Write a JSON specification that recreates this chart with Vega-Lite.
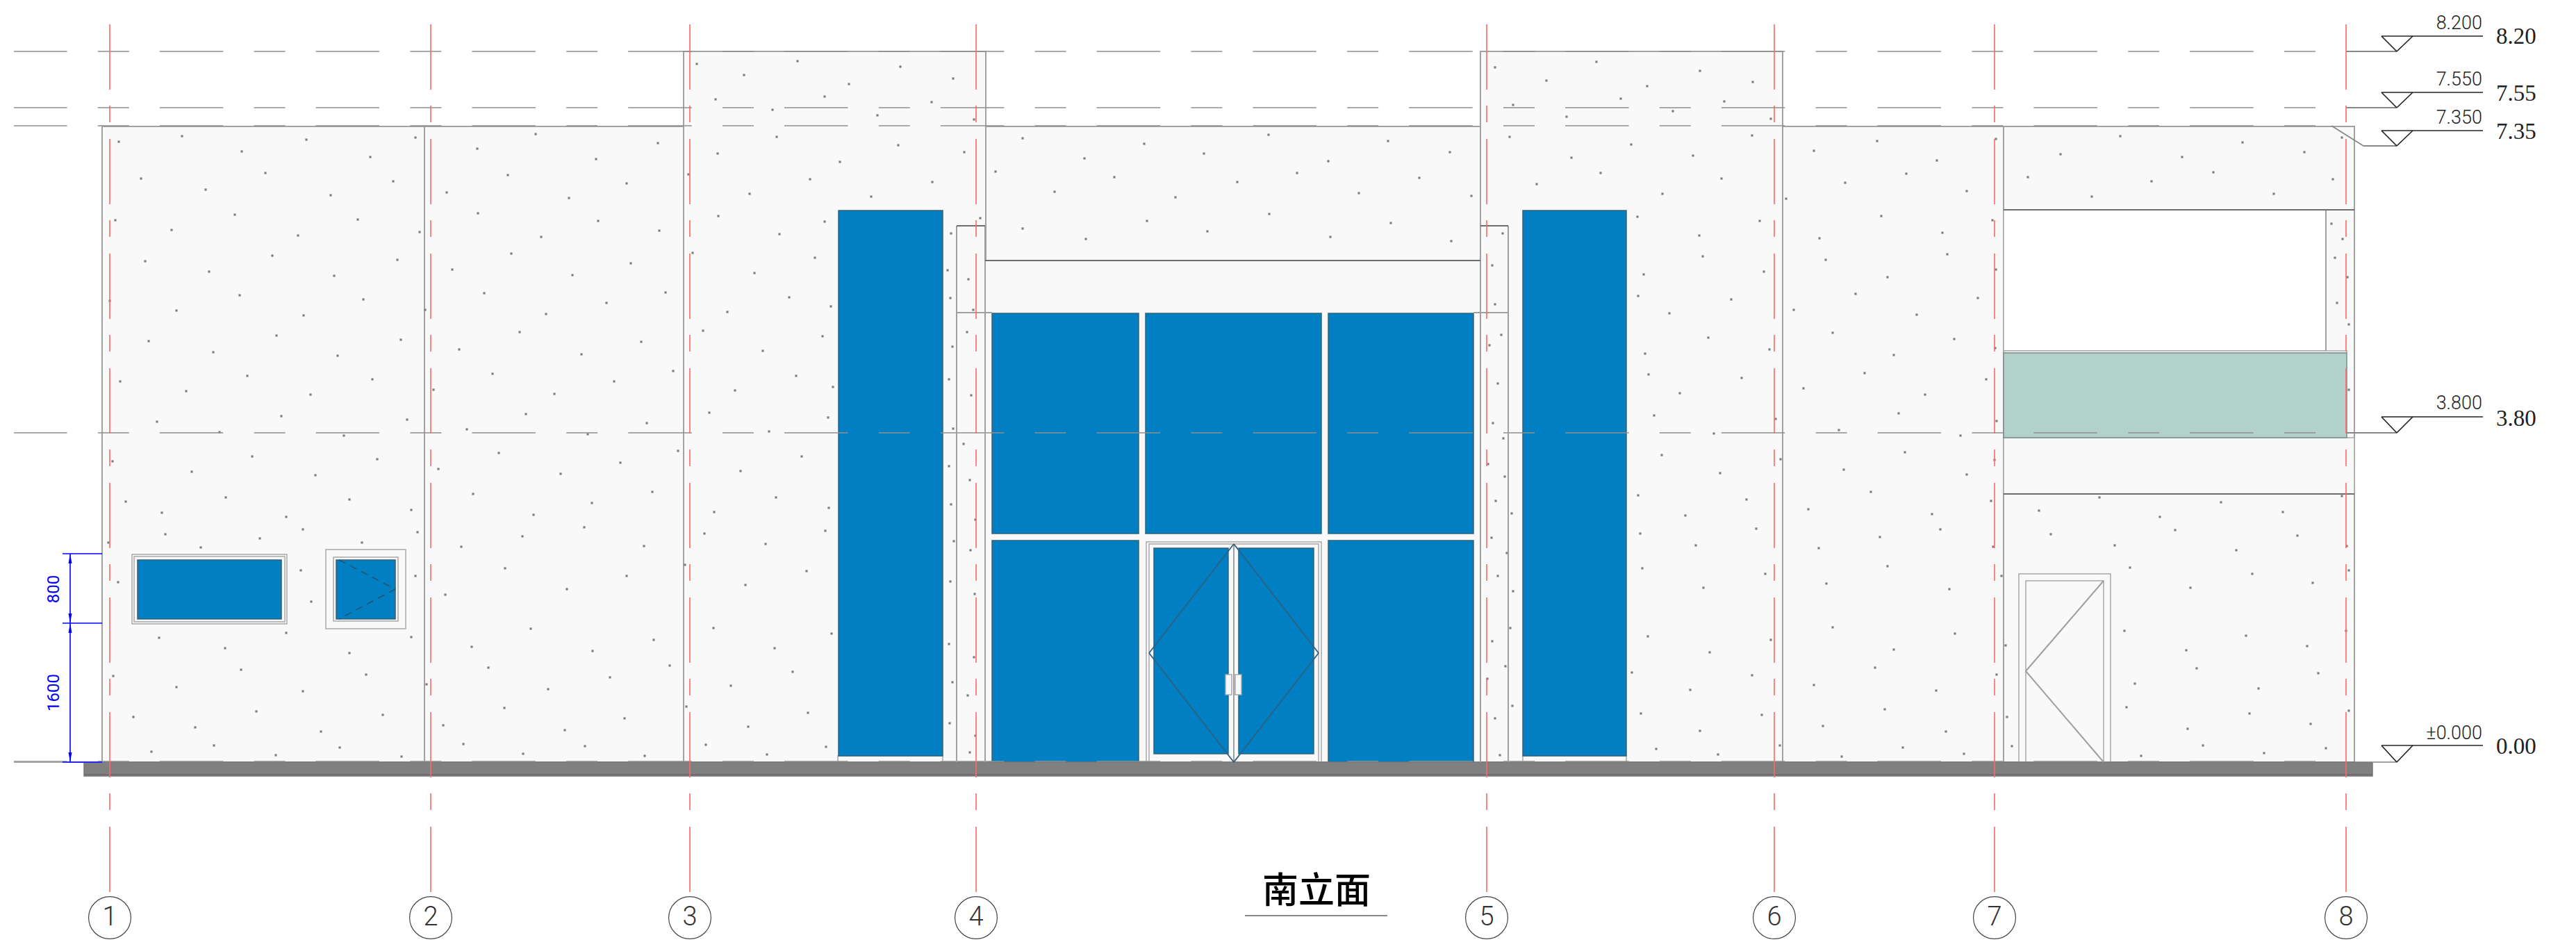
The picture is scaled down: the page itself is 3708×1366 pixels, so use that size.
{"$schema":"https://vega.github.io/schema/vega-lite/v6.json","width":3708,"height":1366,"padding":0,"autosize":"none","background":"white","config":{"view":{"stroke":null}},
"datasets":{
"walls":[{"x":147,"x2":611,"y":182,"y2":1097},{"x":611,"x2":984,"y":182,"y2":1097},{"x":1419,"x2":2131,"y":182,"y2":1097},{"x":2566,"x2":2884,"y":182,"y2":1097},{"x":2884,"x2":3389,"y":182,"y2":1097},{"x":984,"x2":1419,"y":74,"y2":1097},{"x":2131,"x2":2566,"y":74,"y2":1097}],
"speckle":[
{"x":1003,"y":92},{"x":1071,"y":108},{"x":1148,"y":88},{"x":1222,"y":121},{"x":1296,"y":96},{"x":1372,"y":113},{"x":1030,"y":143},{"x":1112,"y":158},{"x":1187,"y":139},{"x":1263,"y":166},{"x":1341,"y":147},{"x":1402,"y":172},
{"x":2152,"y":97},{"x":2226,"y":116},{"x":2298,"y":89},{"x":2371,"y":124},{"x":2447,"y":102},{"x":2523,"y":118},{"x":2178,"y":151},{"x":2255,"y":168},{"x":2333,"y":142},{"x":2408,"y":160},{"x":2482,"y":146},{"x":2549,"y":171},
{"x":171,"y":204},{"x":262,"y":196},{"x":348,"y":218},{"x":441,"y":201},{"x":533,"y":226},{"x":598,"y":198},{"x":687,"y":214},{"x":771,"y":193},{"x":858,"y":229},{"x":947,"y":206},{"x":1033,"y":221},{"x":1118,"y":197},{"x":1209,"y":233},{"x":1293,"y":209},{"x":1388,"y":219},{"x":1472,"y":199},{"x":1561,"y":228},{"x":1647,"y":207},{"x":1733,"y":221},{"x":1826,"y":194},{"x":1912,"y":232},{"x":1998,"y":203},{"x":2087,"y":219},{"x":2173,"y":197},{"x":2262,"y":227},{"x":2348,"y":208},{"x":2437,"y":224},{"x":2522,"y":195},{"x":2611,"y":217},{"x":2702,"y":203},{"x":2788,"y":231},{"x":2873,"y":200},{"x":2966,"y":222},{"x":3052,"y":196},{"x":3141,"y":226},{"x":3228,"y":205},{"x":3317,"y":219},{"x":3371,"y":198},
{"x":203,"y":257},{"x":296,"y":273},{"x":382,"y":249},{"x":476,"y":281},{"x":566,"y":261},{"x":643,"y":277},{"x":731,"y":252},{"x":819,"y":285},{"x":902,"y":264},{"x":991,"y":251},{"x":1079,"y":279},{"x":1166,"y":258},{"x":1254,"y":283},{"x":1342,"y":262},{"x":1433,"y":247},{"x":1518,"y":276},{"x":1604,"y":255},{"x":1692,"y":284},{"x":1781,"y":262},{"x":1867,"y":249},{"x":1956,"y":278},{"x":2043,"y":256},{"x":2118,"y":282},{"x":2212,"y":265},{"x":2304,"y":249},{"x":2393,"y":279},{"x":2478,"y":257},{"x":2571,"y":286},{"x":2656,"y":263},{"x":2744,"y":250},{"x":2831,"y":275},{"x":2919,"y":255},{"x":3011,"y":283},{"x":3097,"y":261},{"x":3186,"y":248},{"x":3273,"y":279},{"x":3358,"y":258},
{"x":166,"y":317},{"x":247,"y":331},{"x":338,"y":309},{"x":429,"y":339},{"x":515,"y":316},{"x":604,"y":334},{"x":688,"y":307},{"x":779,"y":341},{"x":861,"y":318},{"x":949,"y":332},{"x":1034,"y":311},{"x":1122,"y":337},{"x":1187,"y":319},{"x":1369,"y":336},{"x":1411,"y":314},{"x":1472,"y":329},{"x":1563,"y":344},{"x":1651,"y":318},{"x":1738,"y":333},{"x":1827,"y":308},{"x":1915,"y":341},{"x":2002,"y":321},{"x":2089,"y":347},{"x":2163,"y":336},{"x":2357,"y":312},{"x":2446,"y":339},{"x":2533,"y":318},{"x":2619,"y":343},{"x":2708,"y":311},{"x":2796,"y":335},{"x":2868,"y":317},{"x":3356,"y":322},{"x":3372,"y":344},
{"x":209,"y":376},{"x":301,"y":391},{"x":392,"y":368},{"x":481,"y":397},{"x":572,"y":374},{"x":651,"y":388},{"x":736,"y":365},{"x":824,"y":396},{"x":908,"y":379},{"x":997,"y":364},{"x":1086,"y":393},{"x":1173,"y":371},{"x":1364,"y":389},{"x":1394,"y":402},{"x":2148,"y":382},{"x":2366,"y":395},{"x":2451,"y":369},{"x":2539,"y":391},{"x":2628,"y":374},{"x":2717,"y":399},{"x":2803,"y":366},{"x":2873,"y":388},{"x":3361,"y":371},{"x":3379,"y":399},
{"x":158,"y":433},{"x":254,"y":447},{"x":345,"y":425},{"x":437,"y":454},{"x":523,"y":431},{"x":612,"y":446},{"x":697,"y":422},{"x":786,"y":452},{"x":873,"y":436},{"x":958,"y":421},{"x":1047,"y":449},{"x":1136,"y":428},{"x":1196,"y":441},{"x":1368,"y":429},{"x":1401,"y":446},{"x":2152,"y":438},{"x":2358,"y":426},{"x":2403,"y":451},{"x":2492,"y":431},{"x":2582,"y":446},{"x":2671,"y":423},{"x":2759,"y":453},{"x":2847,"y":429},{"x":3364,"y":436},{"x":3381,"y":467},
{"x":214,"y":491},{"x":307,"y":507},{"x":398,"y":483},{"x":486,"y":512},{"x":577,"y":489},{"x":661,"y":503},{"x":748,"y":478},{"x":837,"y":510},{"x":923,"y":492},{"x":1012,"y":476},{"x":1098,"y":505},{"x":1184,"y":484},{"x":1371,"y":499},{"x":1392,"y":478},{"x":2144,"y":497},{"x":2161,"y":482},{"x":2368,"y":509},{"x":2459,"y":486},{"x":2547,"y":503},{"x":2638,"y":479},{"x":2726,"y":511},{"x":2813,"y":488},{"x":2872,"y":501},
{"x":173,"y":549},{"x":268,"y":563},{"x":356,"y":541},{"x":447,"y":568},{"x":536,"y":546},{"x":624,"y":561},{"x":709,"y":538},{"x":798,"y":567},{"x":884,"y":549},{"x":969,"y":534},{"x":1058,"y":562},{"x":1146,"y":541},{"x":1199,"y":557},{"x":1366,"y":546},{"x":1398,"y":569},{"x":2156,"y":552},{"x":2373,"y":539},{"x":2418,"y":566},{"x":2507,"y":544},{"x":2596,"y":559},{"x":2684,"y":537},{"x":2771,"y":568},{"x":2859,"y":546},{"x":3381,"y":561},
{"x":226,"y":607},{"x":316,"y":622},{"x":405,"y":599},{"x":495,"y":627},{"x":586,"y":604},{"x":672,"y":618},{"x":757,"y":596},{"x":846,"y":625},{"x":931,"y":609},{"x":1021,"y":594},{"x":1107,"y":621},{"x":1192,"y":601},{"x":1372,"y":617},{"x":1387,"y":639},{"x":2149,"y":609},{"x":2164,"y":631},{"x":2381,"y":598},{"x":2467,"y":624},{"x":2556,"y":603},{"x":2647,"y":619},{"x":2733,"y":595},{"x":2822,"y":627},{"x":2874,"y":606},
{"x":162,"y":664},{"x":276,"y":679},{"x":363,"y":657},{"x":454,"y":684},{"x":543,"y":661},{"x":631,"y":675},{"x":718,"y":652},{"x":807,"y":682},{"x":893,"y":666},{"x":976,"y":649},{"x":1066,"y":678},{"x":1154,"y":657},{"x":1366,"y":671},{"x":1396,"y":691},{"x":2142,"y":668},{"x":2166,"y":686},{"x":2392,"y":655},{"x":2476,"y":681},{"x":2563,"y":661},{"x":2654,"y":676},{"x":2742,"y":651},{"x":2831,"y":683},{"x":2871,"y":662},
{"x":181,"y":722},{"x":233,"y":738},{"x":325,"y":716},{"x":412,"y":744},{"x":503,"y":719},{"x":592,"y":734},{"x":681,"y":711},{"x":768,"y":741},{"x":852,"y":724},{"x":939,"y":708},{"x":1028,"y":737},{"x":1117,"y":716},{"x":1193,"y":731},{"x":1369,"y":726},{"x":1404,"y":748},{"x":2153,"y":721},{"x":2176,"y":739},{"x":2358,"y":713},{"x":2426,"y":742},{"x":2514,"y":719},{"x":2603,"y":733},{"x":2693,"y":708},{"x":2781,"y":740},{"x":2866,"y":721},{"x":2935,"y":735},{"x":3022,"y":716},{"x":3109,"y":744},{"x":3197,"y":723},{"x":3286,"y":737},{"x":3371,"y":714},
{"x":156,"y":781},{"x":238,"y":769},{"x":289,"y":788},{"x":374,"y":775},{"x":436,"y":762},{"x":521,"y":781},{"x":601,"y":766},{"x":664,"y":787},{"x":752,"y":772},{"x":841,"y":759},{"x":927,"y":786},{"x":1014,"y":768},{"x":1102,"y":783},{"x":1188,"y":764},{"x":1373,"y":779},{"x":1397,"y":792},{"x":2147,"y":774},{"x":2169,"y":796},{"x":2361,"y":768},{"x":2441,"y":785},{"x":2528,"y":761},{"x":2618,"y":789},{"x":2706,"y":773},{"x":2793,"y":762},{"x":2869,"y":787},{"x":2952,"y":769},{"x":3044,"y":785},{"x":3131,"y":763},{"x":3219,"y":792},{"x":3307,"y":771},{"x":3378,"y":786},
{"x":170,"y":838},{"x":433,"y":821},{"x":448,"y":866},{"x":598,"y":829},{"x":641,"y":856},{"x":727,"y":818},{"x":816,"y":848},{"x":902,"y":829},{"x":986,"y":813},{"x":1073,"y":842},{"x":1161,"y":822},{"x":1368,"y":837},{"x":1403,"y":855},{"x":2156,"y":829},{"x":2178,"y":851},{"x":2364,"y":818},{"x":2452,"y":846},{"x":2541,"y":826},{"x":2629,"y":840},{"x":2717,"y":815},{"x":2806,"y":848},{"x":2881,"y":829},{"x":3066,"y":817},{"x":3153,"y":846},{"x":3242,"y":826},{"x":3329,"y":839},{"x":3381,"y":821},
{"x":229,"y":918},{"x":324,"y":933},{"x":412,"y":911},{"x":503,"y":940},{"x":592,"y":917},{"x":679,"y":931},{"x":764,"y":905},{"x":853,"y":937},{"x":941,"y":921},{"x":1027,"y":904},{"x":1115,"y":933},{"x":1197,"y":912},{"x":1366,"y":927},{"x":1402,"y":946},{"x":2148,"y":923},{"x":2174,"y":904},{"x":2372,"y":916},{"x":2461,"y":939},{"x":2549,"y":921},{"x":2638,"y":903},{"x":2726,"y":935},{"x":2814,"y":912},{"x":2887,"y":929},{"x":3058,"y":908},{"x":3147,"y":936},{"x":3233,"y":915},{"x":3321,"y":930},{"x":3377,"y":908},
{"x":163,"y":973},{"x":254,"y":989},{"x":347,"y":964},{"x":436,"y":995},{"x":527,"y":971},{"x":614,"y":985},{"x":703,"y":961},{"x":789,"y":992},{"x":878,"y":975},{"x":964,"y":958},{"x":1052,"y":987},{"x":1141,"y":967},{"x":1371,"y":982},{"x":1393,"y":1001},{"x":2141,"y":977},{"x":2167,"y":959},{"x":2349,"y":968},{"x":2433,"y":993},{"x":2522,"y":972},{"x":2611,"y":986},{"x":2699,"y":961},{"x":2787,"y":994},{"x":2874,"y":971},{"x":3073,"y":984},{"x":3162,"y":962},{"x":3251,"y":991},{"x":3337,"y":969},
{"x":192,"y":1032},{"x":281,"y":1047},{"x":369,"y":1024},{"x":462,"y":1053},{"x":551,"y":1029},{"x":638,"y":1044},{"x":726,"y":1019},{"x":813,"y":1051},{"x":899,"y":1034},{"x":988,"y":1017},{"x":1077,"y":1046},{"x":1163,"y":1026},{"x":1367,"y":1041},{"x":1404,"y":1059},{"x":2152,"y":1034},{"x":2177,"y":1016},{"x":2362,"y":1027},{"x":2447,"y":1052},{"x":2536,"y":1029},{"x":2624,"y":1045},{"x":2713,"y":1021},{"x":2801,"y":1053},{"x":2889,"y":1032},{"x":3061,"y":1018},{"x":3149,"y":1049},{"x":3238,"y":1027},{"x":3326,"y":1042},{"x":3381,"y":1023},
{"x":218,"y":1082},{"x":308,"y":1073},{"x":397,"y":1087},{"x":489,"y":1076},{"x":578,"y":1089},{"x":667,"y":1071},{"x":753,"y":1085},{"x":842,"y":1074},{"x":928,"y":1088},{"x":1016,"y":1072},{"x":1104,"y":1086},{"x":1189,"y":1075},{"x":1396,"y":1083},{"x":2159,"y":1087},{"x":2384,"y":1078},{"x":2473,"y":1086},{"x":2562,"y":1073},{"x":2651,"y":1089},{"x":2739,"y":1076},{"x":2827,"y":1085},{"x":2896,"y":1074},{"x":3082,"y":1088},{"x":3171,"y":1073},{"x":3259,"y":1084},{"x":3348,"y":1077}
],
"parts":[
{"part":"plain","x":1418,"x2":2131,"y":375,"y2":1097},
{"part":"plain","x":1206,"x2":1357,"y":1088,"y2":1097},
{"part":"plain","x":2192,"x2":2341,"y":1088,"y2":1097},
{"part":"plain","x":2884,"x2":3389,"y":630,"y2":711},
{"part":"opening","x":2884,"x2":3348,"y":302,"y2":505},
{"part":"opening","x":2884,"x2":3378,"y":505,"y2":508},
{"part":"green","x":2884,"x2":3378,"y":508,"y2":630},
{"part":"glass","x":1207,"x2":1357,"y":303,"y2":1088},
{"part":"glass","x":2192,"x2":2341,"y":303,"y2":1088},
{"part":"glass","x":1428,"x2":1639,"y":451,"y2":768},
{"part":"glass","x":1649,"x2":1902,"y":451,"y2":768},
{"part":"glass","x":1912,"x2":2121,"y":451,"y2":768},
{"part":"glass","x":1428,"x2":1639,"y":778,"y2":1097},
{"part":"glass","x":1912,"x2":2121,"y":778,"y2":1097},
{"part":"plain","x":1650,"x2":1902,"y":780,"y2":1097},
{"part":"plain","x":1654,"x2":1898,"y":783,"y2":1097},
{"part":"glass","x":1661,"x2":1768,"y":789,"y2":1085},
{"part":"glass","x":1783,"x2":1891,"y":789,"y2":1085},
{"part":"plain","x":1764,"x2":1773,"y":971,"y2":1000},
{"part":"plain","x":1778,"x2":1787,"y":971,"y2":1000},
{"part":"plain","x":190,"x2":413,"y":798,"y2":898},
{"part":"plain","x":193,"x2":410,"y":801,"y2":895},
{"part":"glass","x":198,"x2":405,"y":806,"y2":891},
{"part":"plain","x":469,"x2":584,"y":791,"y2":905},
{"part":"plain","x":480,"x2":573,"y":802,"y2":894},
{"part":"glass","x":484,"x2":569,"y":806,"y2":891},
{"part":"plain","x":2906,"x2":3038,"y":826,"y2":1097},
{"part":"plain","x":2916,"x2":3028,"y":836,"y2":1097},
{"part":"foundation","x":121,"x2":3415,"y":1097,"y2":1117}],
"axes":[{"x":158,"y":35,"y2":1288},{"x":620,"y":35,"y2":1288},{"x":993,"y":35,"y2":1288},{"x":1405,"y":35,"y2":1288},{"x":2140,"y":35,"y2":1288},{"x":2554,"y":35,"y2":1288},{"x":2871,"y":35,"y2":1288},{"x":3377,"y":35,"y2":1288}],
"levelDashes":[{"x":20,"x2":3378,"y":74},{"x":20,"x2":3378,"y":155},{"x":20,"x2":3356,"y":181},{"x":20,"x2":3378,"y":623},{"x":20,"x2":3378,"y":1096}],
"lines":[
{"role":"frame","x":1377,"x2":1377,"y":325,"y2":1097},
{"role":"frame","x":1418,"x2":1418,"y":325,"y2":1097},
{"role":"frame","x":2131,"x2":2131,"y":325,"y2":1097},
{"role":"frame","x":2171,"x2":2171,"y":325,"y2":1097},
{"role":"frame","x":1377,"x2":1428,"y":450,"y2":450},
{"role":"frame","x":2121,"x2":2171,"y":450,"y2":450},
{"role":"frame","x":3348,"x2":3348,"y":302,"y2":505},
{"role":"frame","x":1776,"x2":1776,"y":783,"y2":1097},
{"role":"frame","x":2916,"x2":3028,"y":966,"y2":836},
{"role":"frame","x":2916,"x2":3028,"y":966,"y2":1097},
{"role":"frame","x":20,"x2":147,"y":1097,"y2":1097},
{"role":"frame","x":3415,"x2":3450,"y":1097,"y2":1097},
{"role":"dark","x":1377,"x2":1418,"y":325,"y2":325},
{"role":"dark","x":2131,"x2":2171,"y":325,"y2":325},
{"role":"dark","x":1418,"x2":2131,"y":375,"y2":375},
{"role":"dark","x":2884,"x2":3389,"y":302,"y2":302},
{"role":"dark","x":2884,"x2":3389,"y":711,"y2":711},
{"role":"dark","x":121,"x2":3415,"y":1115,"y2":1115},
{"role":"swing","x":1776,"x2":1654,"y":783,"y2":940},
{"role":"swing","x":1654,"x2":1776,"y":940,"y2":1097},
{"role":"swing","x":1776,"x2":1898,"y":783,"y2":940},
{"role":"swing","x":1898,"x2":1776,"y":940,"y2":1097},
{"role":"leader","x":3378,"x2":3450,"y":74,"y2":74},
{"role":"leader","x":3378,"x2":3450,"y":155,"y2":155},
{"role":"leader","x":3356,"x2":3402,"y":181,"y2":210},
{"role":"leader","x":3402,"x2":3450,"y":210,"y2":210},
{"role":"leader","x":3378,"x2":3450,"y":623,"y2":623},
{"role":"leader","x":1792,"x2":1997,"y":1318,"y2":1318},
{"role":"level","x":3428,"x2":3574,"y":52,"y2":52},{"role":"level","x":3428,"x2":3450,"y":52,"y2":74},{"role":"level","x":3473,"x2":3450,"y":52,"y2":74},
{"role":"level","x":3428,"x2":3574,"y":133,"y2":133},{"role":"level","x":3428,"x2":3450,"y":133,"y2":155},{"role":"level","x":3473,"x2":3450,"y":133,"y2":155},
{"role":"level","x":3428,"x2":3574,"y":188,"y2":188},{"role":"level","x":3428,"x2":3450,"y":188,"y2":210},{"role":"level","x":3473,"x2":3450,"y":188,"y2":210},
{"role":"level","x":3428,"x2":3574,"y":600,"y2":600},{"role":"level","x":3428,"x2":3450,"y":600,"y2":623},{"role":"level","x":3473,"x2":3450,"y":600,"y2":623},
{"role":"level","x":3428,"x2":3574,"y":1073,"y2":1073},{"role":"level","x":3428,"x2":3450,"y":1073,"y2":1097},{"role":"level","x":3473,"x2":3450,"y":1073,"y2":1097},
{"role":"dim","x":101,"x2":101,"y":797,"y2":1097},
{"role":"dim","x":90,"x2":147,"y":797,"y2":797},
{"role":"dim","x":90,"x2":147,"y":897,"y2":897},
{"role":"dim","x":90,"x2":147,"y":1097,"y2":1097}],
"windowSwing":[{"x":488,"x2":569,"y":806,"y2":848},{"x":569,"x2":488,"y":848,"y2":891}],
"arrows":[{"x":101,"y":804,"dir":"up"},{"x":101,"y":890,"dir":"down"},{"x":101,"y":904,"dir":"up"},{"x":101,"y":1090,"dir":"down"}],
"bubbles":[{"x":158,"y":1321,"label":"1"},{"x":620,"y":1321,"label":"2"},{"x":993,"y":1321,"label":"3"},{"x":1405,"y":1321,"label":"4"},{"x":2140,"y":1321,"label":"5"},{"x":2554,"y":1321,"label":"6"},{"x":2871,"y":1321,"label":"7"},{"x":3377,"y":1321,"label":"8"}],
"levelSmall":[{"x":3573,"y":42,"label":"8.200"},{"x":3573,"y":123,"label":"7.550"},{"x":3573,"y":178,"label":"7.350"},{"x":3573,"y":589,"label":"3.800"},{"x":3573,"y":1064,"label":"±0.000"}],
"levelLarge":[{"x":3593,"y":63,"label":"8.20"},{"x":3593,"y":145,"label":"7.55"},{"x":3593,"y":200,"label":"7.35"},{"x":3593,"y":613,"label":"3.80"},{"x":3593,"y":1085,"label":"0.00"}],
"dimText":[{"x":78,"y":848,"label":"800"},{"x":78,"y":997,"label":"1600"}],
"title":[{"x":1895,"y":1284,"label":"南立面"}]
},
"encoding":{"x":{"field":"x","type":"quantitative","scale":{"domain":[0,3708],"nice":false,"zero":false},"axis":null},"y":{"field":"y","type":"quantitative","scale":{"domain":[1366,0],"nice":false,"zero":false},"axis":null}},
"layer":[
{"data":{"name":"walls"},"mark":{"type":"rect","fill":"#f9f9f9","stroke":"#a2a2a2","strokeWidth":2},"encoding":{"x2":{"field":"x2"},"y2":{"field":"y2"}}},
{"data":{"name":"speckle"},"mark":{"type":"point","shape":"square","filled":true,"fill":"#7c7c7c","strokeWidth":0,"opacity":1,"size":10}},
{"data":{"name":"parts"},"mark":{"type":"rect","strokeWidth":1.5},"encoding":{"x2":{"field":"x2"},"y2":{"field":"y2"},
 "fill":{"field":"part","type":"nominal","legend":null,"scale":{"domain":["plain","opening","green","glass","foundation"],"range":["#f9f9f9","#ffffff","#b3d1cb","#0080c2","#808080"]}},
 "stroke":{"field":"part","type":"nominal","legend":null,"scale":{"domain":["plain","opening","green","glass","foundation"],"range":["#a8a8a8","#a8a8a8","#7d8f8b","#33617d","#777777"]}}}},
{"data":{"name":"levelDashes"},"mark":{"type":"rule","stroke":"#8f8f8f","strokeWidth":1.4,"strokeDash":[91.5,44.3,45,44],"strokeDashOffset":15},"encoding":{"x2":{"field":"x2"}}},
{"data":{"name":"lines"},"mark":{"type":"rule"},"encoding":{"x2":{"field":"x2"},"y2":{"field":"y2"},
 "color":{"field":"role","type":"nominal","legend":null,"scale":{"domain":["frame","dark","swing","leader","level","dim"],"range":["#a0a0a0","#6e6e6e","#2f5f7f","#888888","#222222","#0000ff"]}},
 "strokeWidth":{"field":"role","type":"ordinal","legend":null,"scale":{"domain":["frame","dark","swing","leader","level","dim"],"range":[2,1.6,1.2,1.5,1.3,1.6]}}}},
{"data":{"name":"windowSwing"},"mark":{"type":"rule","stroke":"#2b4a5e","strokeWidth":1.3,"strokeDash":[10,8]},"encoding":{"x2":{"field":"x2"},"y2":{"field":"y2"}}},
{"data":{"name":"axes"},"mark":{"type":"rule","stroke":"#ff6666","strokeWidth":1.6,"strokeDash":[94,23,24,24]},"encoding":{"y2":{"field":"y2"}}},
{"data":{"name":"arrows"},"mark":{"type":"point","filled":true,"opacity":1,"fill":"#0000ff","strokeWidth":0},"encoding":{"shape":{"field":"dir","type":"nominal","legend":null,"scale":{"domain":["up","down"],"range":["M0,-1L0.35,1L-0.35,1Z","M0,1L0.35,-1L-0.35,-1Z"]}},"size":{"value":200}}},
{"data":{"name":"bubbles"},"mark":{"type":"point","shape":"circle","filled":false,"stroke":"#444444","strokeWidth":1.2,"opacity":1,"size":3700}},
{"data":{"name":"bubbles"},"mark":{"type":"text","font":"Roboto","fontSize":38,"fontWeight":300,"fill":"#333333","align":"center","baseline":"middle"},"encoding":{"text":{"field":"label"}}},
{"data":{"name":"levelSmall"},"mark":{"type":"text","font":"Roboto","fontSize":27,"fontWeight":300,"fill":"#222222","align":"right","baseline":"alphabetic"},"encoding":{"text":{"field":"label"}}},
{"data":{"name":"levelLarge"},"mark":{"type":"text","font":"Liberation Serif","fontSize":33,"fill":"#222222","align":"left","baseline":"alphabetic"},"encoding":{"text":{"field":"label"}}},
{"data":{"name":"dimText"},"mark":{"type":"text","font":"Roboto","fontSize":24,"fill":"#0000ff","align":"center","baseline":"middle","angle":270},"encoding":{"text":{"field":"label"}}},
{"data":{"name":"title"},"mark":{"type":"text","font":"Noto Sans CJK SC","fontSize":52,"fontWeight":500,"fill":"#000000","align":"center","baseline":"middle"},"encoding":{"text":{"field":"label"}}}
]}
